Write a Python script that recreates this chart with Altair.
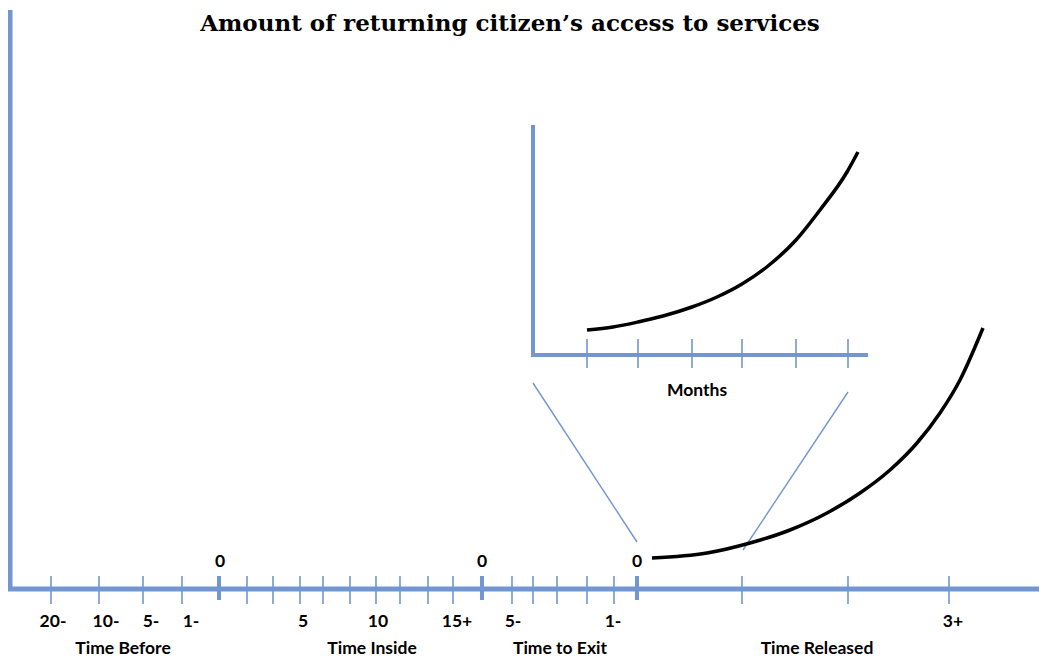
import altair as alt
import pandas as pd

BLUE = "#7196d1"
LABEL_FONT = "Lato"
TITLE_FONT = "DejaVu Serif"

# ---- text content ----
TITLE = "Amount of returning citizen\u2019s access to services"
tick_labels = ["20-", "10-", "5-", "1-", "5", "10", "15+", "5-", "1-", "3+"]
tick_label_x = [53, 106, 151, 191, 303, 378, 457, 513, 613, 953]
zero_label_x = [220, 482, 637]
section_labels = ["Time Before", "Time Inside", "Time to Exit", "Time Released"]
section_x = [123, 372, 560, 817]
inset_label = "Months"

# ---- diagram units (x to the right, y downward) ----
minor_tick_x = [51, 99, 143, 182, 247, 273, 300, 323, 350, 376, 400, 428, 453,
                512, 533, 557, 587, 614, 742, 848, 949]
major_tick_x = [219, 482, 637]
inset_tick_x = [587, 638, 692, 742, 796, 848]

main_curve_x = [652, 707, 750, 790, 827, 860, 890, 917, 940, 960, 983]
main_curve_y = [558, 553, 543, 530, 513, 493, 470, 443, 413, 380, 328]
inset_curve_x = [587, 613, 638, 663, 692, 717, 742, 768, 796, 820, 847, 858]
inset_curve_y = [330, 327, 322, 316, 307, 297, 284, 266, 240, 210, 172, 152]

# axis frames: (x, y, x2, y2, width)
frame_x = [10, 8, 533, 531]
frame_y = [10, 589, 125, 355]
frame_x2 = [10, 1045, 533, 868]
frame_y2 = [591, 589, 357, 355]
frame_w = [5, 5, 4, 4]

zoom_x = [533, 848]
zoom_y = [383, 392]
zoom_x2 = [637, 743]
zoom_y2 = [542, 550]

# ---- build tables ----
segs = []
for x, y, x2, y2, w in zip(frame_x, frame_y, frame_x2, frame_y2, frame_w):
    segs.append(dict(x=x, y=y, x2=x2, y2=y2, w=w))
for x in minor_tick_x:
    segs.append(dict(x=x, y=576, x2=x, y2=604, w=1.6))
for x in major_tick_x:
    segs.append(dict(x=x, y=576, x2=x, y2=600, w=4))
for x in inset_tick_x:
    segs.append(dict(x=x, y=339, x2=x, y2=368, w=1.6))
for x, y, x2, y2 in zip(zoom_x, zoom_y, zoom_x2, zoom_y2):
    segs.append(dict(x=x, y=y, x2=x2, y2=y2, w=1.4))
seg_df = pd.DataFrame(segs)

curve_df = pd.concat([
    pd.DataFrame(dict(x=main_curve_x, y=main_curve_y, s="main")),
    pd.DataFrame(dict(x=inset_curve_x, y=inset_curve_y, s="inset")),
])

tick_lab_df = pd.DataFrame(dict(x=tick_label_x, y=[622] * len(tick_label_x), t=tick_labels))
zero_df = pd.DataFrame(dict(x=zero_label_x, y=[562] * 3, t=["0"] * 3))
sec_df = pd.DataFrame(dict(x=section_x, y=[649] * 4, t=section_labels))
months_df = pd.DataFrame(dict(x=[697], y=[391], t=[inset_label]))
title_df = pd.DataFrame(dict(x=[510], y=[24], t=[TITLE]))

W, H = 1031, 650
xs = alt.Scale(domain=[8, 8 + W], nice=False, zero=False)
ys = alt.Scale(domain=[8, 8 + H], nice=False, zero=False, reverse=True)

X = lambda f="x": alt.X(f"{f}:Q", scale=xs, axis=None)
Y = lambda f="y": alt.Y(f"{f}:Q", scale=ys, axis=None)

rules = alt.Chart(seg_df).mark_rule(color=BLUE, strokeCap="butt").encode(
    x=X(), y=Y(), x2="x2:Q", y2="y2:Q",
    strokeWidth=alt.StrokeWidth("w:Q", scale=None),
)

curves = alt.Chart(curve_df).mark_line(color="black", strokeWidth=3.5,
                                       interpolate="monotone").encode(
    x=X(), y=Y(), detail="s:N",
)

def texts(df, font, size, weight="bold"):
    return alt.Chart(df).mark_text(font=font, fontSize=size, fontWeight=weight,
                                   color="black", baseline="middle", align="center").encode(
        x=X(), y=Y(), text="t:N")

chart = alt.layer(
    rules,
    curves,
    texts(tick_lab_df, LABEL_FONT, 17.5),
    texts(zero_df, LABEL_FONT, 17.5),
    texts(sec_df, LABEL_FONT, 17.5),
    texts(months_df, LABEL_FONT, 17.5),
    texts(title_df, TITLE_FONT, 23),
).properties(
    width=W, height=H, padding=0, autosize=alt.AutoSizeParams(type="none"),
).configure_view(stroke=None)

chart.save("out.html", embed_options={"renderer": "svg", "actions": False})
